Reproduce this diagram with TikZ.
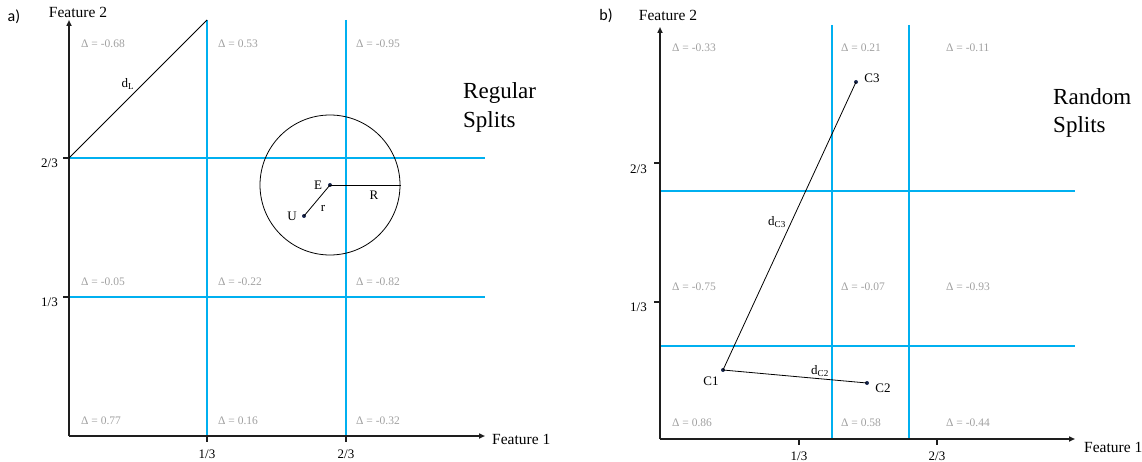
\documentclass[tikz,border=0pt]{standalone}
\usepackage{fontspec}
\setmainfont{Liberation Serif}
\newfontfamily\panelfont{Carlito}
\usetikzlibrary{arrows.meta}
\definecolor{splitblue}{RGB}{0,176,240}
\definecolor{deltagray}{RGB}{160,160,160}
\definecolor{axisblack}{RGB}{30,30,30}
\definecolor{dotnavy}{RGB}{25,40,80}
\tikzset{
  axisline/.style={draw=axisblack, line width=1.6pt, -{Triangle[length=6pt,width=5pt]}},
  tickline/.style={draw=axisblack, line width=1.6pt},
  splitline/.style={draw=splitblue, line width=1.4pt},
  distline/.style={draw=black, line width=0.8pt},
  ptdot/.style={circle, fill=dotnavy, inner sep=0pt, minimum size=4pt},
  deltalab/.style={anchor=west, inner sep=0pt, text=deltagray, font=\fontsize{11.5}{13}\selectfont},
  ticklab/.style={inner sep=0pt, font=\fontsize{13}{15}\selectfont},
  featlab/.style={inner sep=0pt, font=\fontsize{15.5}{18}\selectfont},
  ptlab/.style={inner sep=0pt, font=\fontsize{13}{15}\selectfont},
  titlelab/.style={anchor=base west, inner sep=0pt, font=\fontsize{23}{28}\selectfont},
  panellab/.style={inner sep=0pt, font=\panelfont\fontsize{16}{19}\selectfont},
}
\begin{document}
\begin{tikzpicture}[x=1pt,y=-1pt]
\useasboundingbox (0,0) rectangle (1142,462);

% ================= Panel a =================
\node[panellab] (pa) at (14,17) {a)};
\coordinate (Oa) at (69,436);
\coordinate (Ya) at (69,20);
\coordinate (Xa) at (485,436);
% splits
\draw[splitline] (207,20) -- (207,436);
\draw[splitline] (346,20) -- (346,436);
\draw[splitline] (69,158) -- (485,158);
\draw[splitline] (69,297) -- (485,297);
% axes
\draw[axisline] (Oa) -- (Ya);
\draw[axisline] (Oa) -- (Xa);
\draw[tickline] (207,436) -- (207,442);
\draw[tickline] (346,436) -- (346,442);
\draw[tickline] (63,158) -- (69,158);
\draw[tickline] (63,297) -- (69,297);
\node[ticklab] (ax13) at (207,454) {1/3};
\node[ticklab] (ax23) at (346,454) {2/3};
\node[ticklab, anchor=east] (ay23) at (58,163) {2/3};
\node[ticklab, anchor=east] (ay13) at (58,302) {1/3};
\node[featlab] (fa2) at (78,12) {Feature 2};
\node[featlab, anchor=west] (fa1) at (492,439) {Feature 1};
% deltas
\node[deltalab] (da11) at (81,44) {Δ = -0.68};
\node[deltalab] (da12) at (218,44) {Δ = 0.53};
\node[deltalab] (da13) at (356,44) {Δ = -0.95};
\node[deltalab] (da21) at (81,282) {Δ = -0.05};
\node[deltalab] (da22) at (218,282) {Δ = -0.22};
\node[deltalab] (da23) at (356,282) {Δ = -0.82};
\node[deltalab] (da31) at (81,421) {Δ = 0.77};
\node[deltalab] (da32) at (218,421) {Δ = 0.16};
\node[deltalab] (da33) at (356,421) {Δ = -0.32};
% d_L
\coordinate (Lstart) at (69,158);
\coordinate (Lend) at (207,20);
\draw[distline] (Lstart) -- (Lend);
\node[ptlab] (dL) at (128,84) {d\textsubscript{L}};
% circle
\node[ptdot] (E) at (330,185) {};
\node[ptdot] (U) at (304,216) {};
\coordinate (Rend) at (401,185);
\draw[distline] (E.center) circle[radius=70pt];
\draw[distline] (E.center) -- (Rend);
\draw[distline] (U.center) -- (E.center);
\node[ptlab] (Elab) at (318,185) {E};
\node[ptlab] (Ulab) at (292,216) {U};
\node[ptlab] (rlab) at (323,208) {r};
\node[ptlab] (Rlab) at (374,195) {R};
\node[titlelab] (reg1) at (463,99) {Regular};
\node[titlelab] (reg2) at (463,128) {Splits};

% ================= Panel b =================
\node[panellab] (pb) at (606,16) {b)};
\coordinate (Ob) at (660,439);
\coordinate (Yb) at (660,27);
\coordinate (Xb) at (1075,439);
% splits
\draw[splitline] (832,25) -- (832,439);
\draw[splitline] (909,25) -- (909,439);
\draw[splitline] (660,191) -- (1075,191);
\draw[splitline] (660,346) -- (1075,346);
% axes
\draw[axisline] (Ob) -- (Yb);
\draw[axisline] (Ob) -- (Xb);
\draw[tickline] (799,439) -- (799,445);
\draw[tickline] (937,439) -- (937,445);
\draw[tickline] (654,163) -- (660,163);
\draw[tickline] (654,302) -- (660,302);
\node[ticklab] (bx13) at (799,456) {1/3};
\node[ticklab] (bx23) at (937,456) {2/3};
\node[ticklab, anchor=east] (by23) at (647,169) {2/3};
\node[ticklab, anchor=east] (by13) at (647,307) {1/3};
\node[featlab] (fb2) at (668,15) {Feature 2};
\node[featlab, anchor=west] (fb1) at (1084,447) {Feature 1};
% deltas
\node[deltalab] (db11) at (672,48) {Δ = -0.33};
\node[deltalab] (db12) at (841,48) {Δ = 0.21};
\node[deltalab] (db13) at (946,48) {Δ = -0.11};
\node[deltalab] (db21) at (672,287) {Δ = -0.75};
\node[deltalab] (db22) at (841,287) {Δ = -0.07};
\node[deltalab] (db23) at (946,287) {Δ = -0.93};
\node[deltalab] (db31) at (672,423) {Δ = 0.86};
\node[deltalab] (db32) at (841,423) {Δ = 0.58};
\node[deltalab] (db33) at (946,423) {Δ = -0.44};
% points
\node[ptdot] (C1) at (723,370) {};
\node[ptdot] (C2) at (867,383) {};
\node[ptdot] (C3) at (856,82) {};
\draw[distline] (C1.center) -- (C2.center);
\draw[distline] (C1.center) -- (C3.center);
\node[ptlab] (C1lab) at (711,381) {C1};
\node[ptlab] (C2lab) at (883,388) {C2};
\node[ptlab] (C3lab) at (872,78) {C3};
\node[ptlab] (dC2) at (820,371) {d\textsubscript{C2}};
\node[ptlab] (dC3) at (777,222) {d\textsubscript{C3}};
\node[titlelab] (ran1) at (1053,105) {Random};
\node[titlelab] (ran2) at (1053,133) {Splits};
\end{tikzpicture}
\end{document}
